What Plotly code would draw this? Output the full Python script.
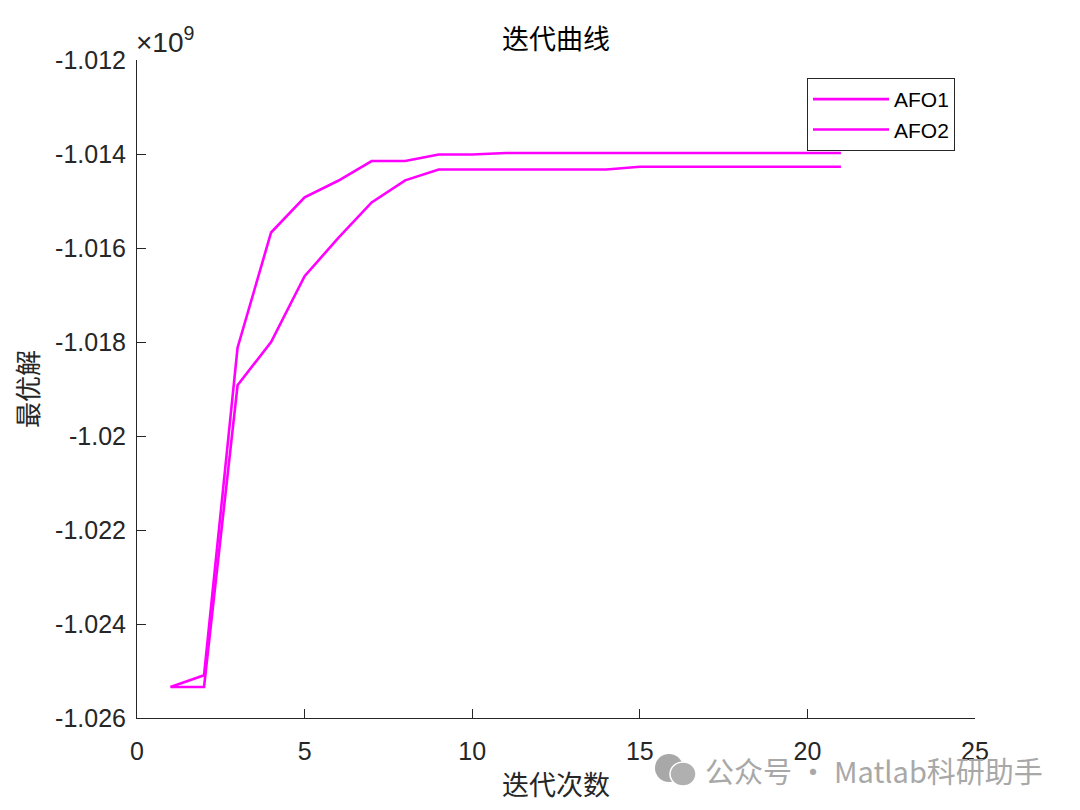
import plotly.graph_objects as go

SCALE = 1e9
iterations = list(range(1, 22))
afo1 = [-1.02534, -1.02509, -1.01812, -1.01567, -1.01492, -1.01457, -1.01415, -1.01415,
        -1.01401, -1.01401] + [-1.01398] * 11
afo2 = [-1.02534, -1.02534, -1.01892, -1.01800, -1.01660, -1.01579, -1.01503, -1.01456] \
       + [-1.01433] * 6 + [-1.01427] * 7

ytick_vals = [-1.026, -1.024, -1.022, -1.020, -1.018, -1.016, -1.014, -1.012]
ytick_text = ["-1.026", "-1.024", "-1.022", "-1.02", "-1.018", "-1.016", "-1.014", "-1.012"]
xtick_vals = [0, 5, 10, 15, 20, 25]

title_text = "迭代曲线"
xlabel = "迭代次数"
ylabel = "最优解"
watermark = "公众号 · Matlab科研助手"

MAG = "#FF00FF"
AX = "#262626"
LAT = "Liberation Sans, Arial, sans-serif"
CJK = "Noto Sans CJK SC, sans-serif"

# page body has an 8px margin; figure is sized so that the page is 1080x810
W, H, OFF = 1072, 802, 8
PL, PR, PT, PB = 137, 975, 60, 718  # plot area in page pixels
fig = go.Figure()
fig.add_trace(go.Scatter(x=iterations, y=[v * SCALE for v in afo1], mode="lines",
                         name="AFO1", line=dict(color=MAG, width=2.6)))
fig.add_trace(go.Scatter(x=iterations, y=[v * SCALE for v in afo2], mode="lines",
                         name="AFO2", line=dict(color=MAG, width=2.6)))

fig.update_layout(
    width=W, height=H,
    paper_bgcolor="white", plot_bgcolor="white",
    margin=dict(l=PL - OFF, r=W - (PR - OFF), t=PT - OFF, b=H - (PB - OFF), autoexpand=False),
    title=dict(text=title_text, x=0.5, xref="paper", xanchor="center",
               y=1 - (40 - OFF) / H, yanchor="middle", yref="container",
               font=dict(family=CJK, size=27, color="#000")),
    legend=dict(x=(955 - PL) / (PR - PL), xanchor="right", y=(PB - 78) / (PB - PT), yanchor="top",
                bordercolor=AX, borderwidth=1, bgcolor="white",
                font=dict(family=LAT, size=21, color="#000"),
                itemwidth=76, tracegroupgap=0),
    showlegend=True,
)
fig.update_xaxes(range=[0, 25], tickvals=xtick_vals, ticks="inside", ticklen=9,
                 tickcolor=AX, showline=True, linecolor=AX, linewidth=1,
                 showgrid=False, zeroline=False, mirror=False, automargin=False,
                 ticklabelstandoff=11,
                 tickfont=dict(family=LAT, size=25, color=AX),
                 title=dict(text=xlabel, font=dict(family=CJK, size=27, color=AX), standoff=12))
fig.update_yaxes(range=[-1.026 * SCALE, -1.012 * SCALE],
                 tickvals=[v * SCALE for v in ytick_vals], ticktext=ytick_text,
                 ticks="inside", ticklen=9, tickcolor=AX, showline=True, linecolor=AX,
                 linewidth=1, showgrid=False, zeroline=False, automargin=False,
                 ticklabelstandoff=5,
                 tickfont=dict(family=LAT, size=25, color=AX),
                 title=dict(text=ylabel, font=dict(family=CJK, size=26, color=AX), standoff=10))

fig.add_annotation(text="×10<sup>9</sup>", xref="paper", yref="paper", x=0, y=1,
                   xanchor="left", yanchor="bottom", showarrow=False, xshift=-3, yshift=0,
                   font=dict(family=LAT, size=28, color=AX))
fig.add_annotation(text=watermark, xref="paper", yref="paper", x=1, y=0,
                   xanchor="right", yanchor="middle", showarrow=False,
                   xshift=1045 - PR, yshift=-(770 - PB),
                   font=dict(family=CJK, size=29, color="#A8A8A8"))
# wechat-like icon
fig.add_shape(type="circle", xref="paper", yref="paper", x0=(655 - PL) / 838, x1=(683 - PL) / 838,
              y0=(PB - 782) / 658, y1=(PB - 754) / 658, fillcolor="#A8A8A8", line=dict(width=0))
fig.add_shape(type="circle", xref="paper", yref="paper", x0=(670 - PL) / 838, x1=(696 - PL) / 838,
              y0=(PB - 786) / 658, y1=(PB - 762) / 658, fillcolor="#B0B0B0",
              line=dict(color="white", width=1.5))

fig.write_html("out.html")
